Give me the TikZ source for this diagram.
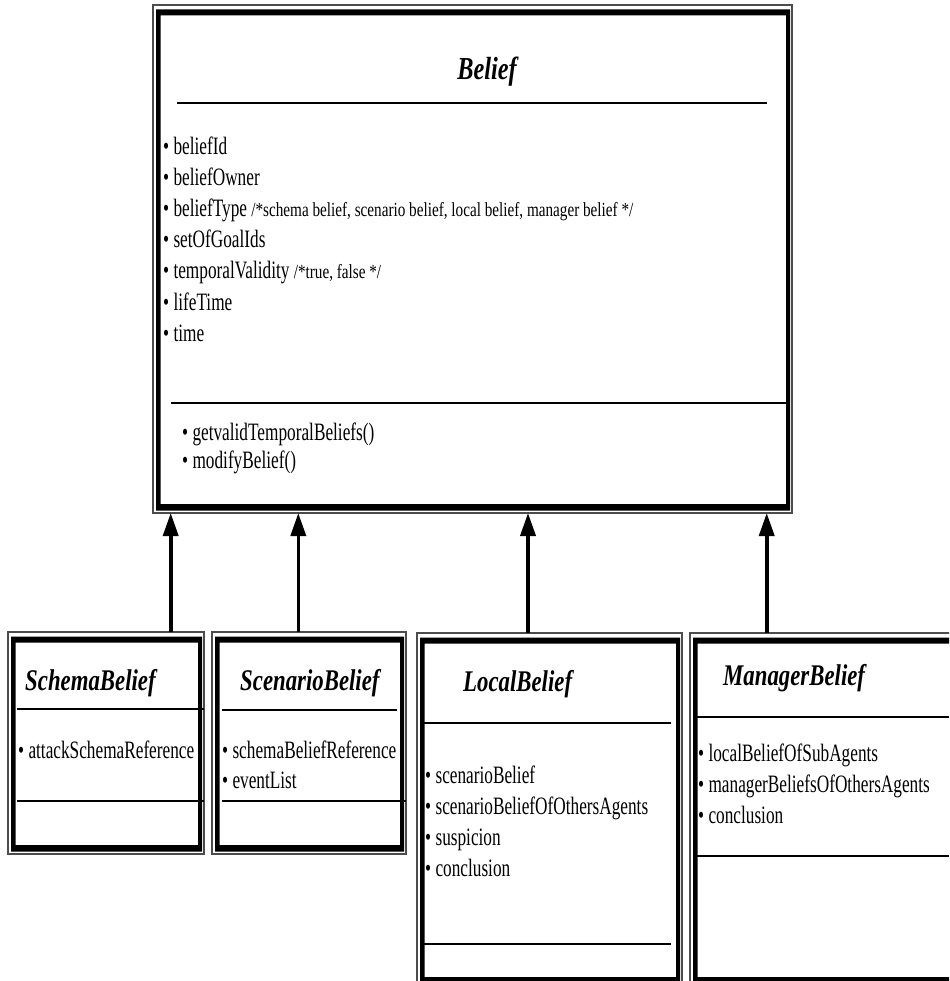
\documentclass[tikz,border=0pt]{standalone}
\usepackage{fontspec}
\setmainfont{Liberation Serif}
\newfontfamily\itemfont[FakeStretch=0.69]{Liberation Serif}
\newfontfamily\notefont[FakeStretch=0.76]{Liberation Serif}
\newfontfamily\headfont[FakeStretch=0.76]{Liberation Serif}
\usetikzlibrary{arrows.meta}

\tikzset{
  boxarea/.style={anchor=north west, inner sep=0pt, outer sep=0pt, draw=none},
  rimline/.style={draw=black!70, line width=1.2pt},
  sepline/.style={line width=1.8pt},
  classname/.style={anchor=base west, inner sep=0pt, font=\headfont\bfseries\itshape\fontsize{30}{36}\selectfont},
  member/.style={anchor=base west, inner sep=0pt, font=\itemfont\fontsize{25}{31}\selectfont},
  inherit/.style={line width=3.6pt, -{Triangle[length=23pt,width=15pt]}},
}

% double border of a class box: thin rim outside, heavy frame inside
\newcommand{\classframe}[1]{%
  \draw[rimline] (#1.north west) rectangle (#1.south east);
  \fill[black, even odd rule]
    ([xshift=3pt,yshift=-4.5pt]#1.north west) rectangle ([xshift=-2pt,yshift=2.5pt]#1.south east)
    ([xshift=7.5pt,yshift=-10.5pt]#1.north west) rectangle ([xshift=-6pt,yshift=9pt]#1.south east);
}
\newcommand{\cmt}[1]{{\notefont\fontsize{20}{24}\selectfont #1}}

\begin{document}
\begin{tikzpicture}[x=1pt, y=-1pt]
\useasboundingbox (0,0) rectangle (949,981);
\fill[white] (0,0) rectangle (949,981);
\clip (0,0) rectangle (949,981);

% class areas
\node[boxarea, minimum width=639pt, minimum height=508pt] (belief)   at (153,5)   {};
\node[boxarea, minimum width=196pt, minimum height=222pt] (schema)   at (8,632)   {};
\node[boxarea, minimum width=194pt, minimum height=222pt] (scenario) at (212,632) {};
\node[boxarea, minimum width=265pt, minimum height=353pt] (local)    at (417,633) {};
\node[boxarea, minimum width=272pt, minimum height=353pt] (manager)  at (690,633) {};

\classframe{belief}
\classframe{schema}
\classframe{scenario}
\classframe{local}
\classframe{manager}

% compartment separators
\draw[sepline] (177,103.3) -- (767,103.3);
\draw[sepline] (171,403) -- (786,403);
\draw[sepline] (17,709) -- (204,709);
\draw[sepline] (17,800.7) -- (204,800.7);
\draw[sepline] (222,710) -- (397,710);
\draw[sepline] (222,801) -- (406,801);
\draw[sepline] (424,722.7) -- (671,722.7);
\draw[sepline] (424,944) -- (671,944);
\draw[sepline] (696,716.7) -- (949,716.7);
\draw[sepline] (696,855.7) -- (949,855.7);

% Belief
\node[classname, anchor=base, font=\headfont\bfseries\itshape\fontsize{32}{38}\selectfont] (belief-name) at (487,80) {Belief};
\node[member] (b1) at (163,155) {• beliefId};
\node[member] (b2) at (163,186) {• beliefOwner};
\node[member] (b3) at (163,217) {• beliefType \cmt{/*schema belief, scenario belief, local belief, manager belief */}};
\node[member] (b4) at (163,248) {• setOfGoalIds};
\node[member] (b5) at (163,279) {• temporalValidity \cmt{/*true, false */}};
\node[member] (b6) at (163,310) {• lifeTime};
\node[member] (b7) at (163,341) {• time};
\node[member] (m1) at (182,440) {• getvalidTemporalBeliefs()};
\node[member] (m2) at (182,468) {• modifyBelief()};

% SchemaBelief
\node[classname] (schema-name) at (25,690) {SchemaBelief};
\node[member] (s1) at (18,758) {• attackSchemaReference};

% ScenarioBelief
\node[classname] (scenario-name) at (240,690) {ScenarioBelief};
\node[member] (c1) at (222,758) {• schemaBeliefReference};
\node[member] (c2) at (222,788) {• eventList};

% LocalBelief
\node[classname] (local-name) at (463,691) {LocalBelief};
\node[member] (l1) at (425,783) {• scenarioBelief};
\node[member] (l2) at (425,814) {• scenarioBeliefOfOthersAgents};
\node[member] (l3) at (425,845) {• suspicion};
\node[member] (l4) at (425,876) {• conclusion};

% ManagerBelief
\node[classname] (manager-name) at (723,685) {ManagerBelief};
\node[member] (g1) at (698,761) {• localBeliefOfSubAgents};
\node[member] (g2) at (698,792) {• managerBeliefsOfOthersAgents};
\node[member] (g3) at (698,823) {• conclusion};

% generalisation arrows
\coordinate (ax1) at (170.7,0);
\coordinate (ax2) at (298.3,0);
\coordinate (ax3) at (528,0);
\coordinate (ax4) at (766.7,0);
\draw[inherit] (schema.north -| ax1)   -- (belief.south -| ax1);
\draw[inherit] (scenario.north -| ax2) -- (belief.south -| ax2);
\draw[inherit] (local.north -| ax3)    -- (belief.south -| ax3);
\draw[inherit] (manager.north -| ax4)  -- (belief.south -| ax4);
\end{tikzpicture}
\end{document}
